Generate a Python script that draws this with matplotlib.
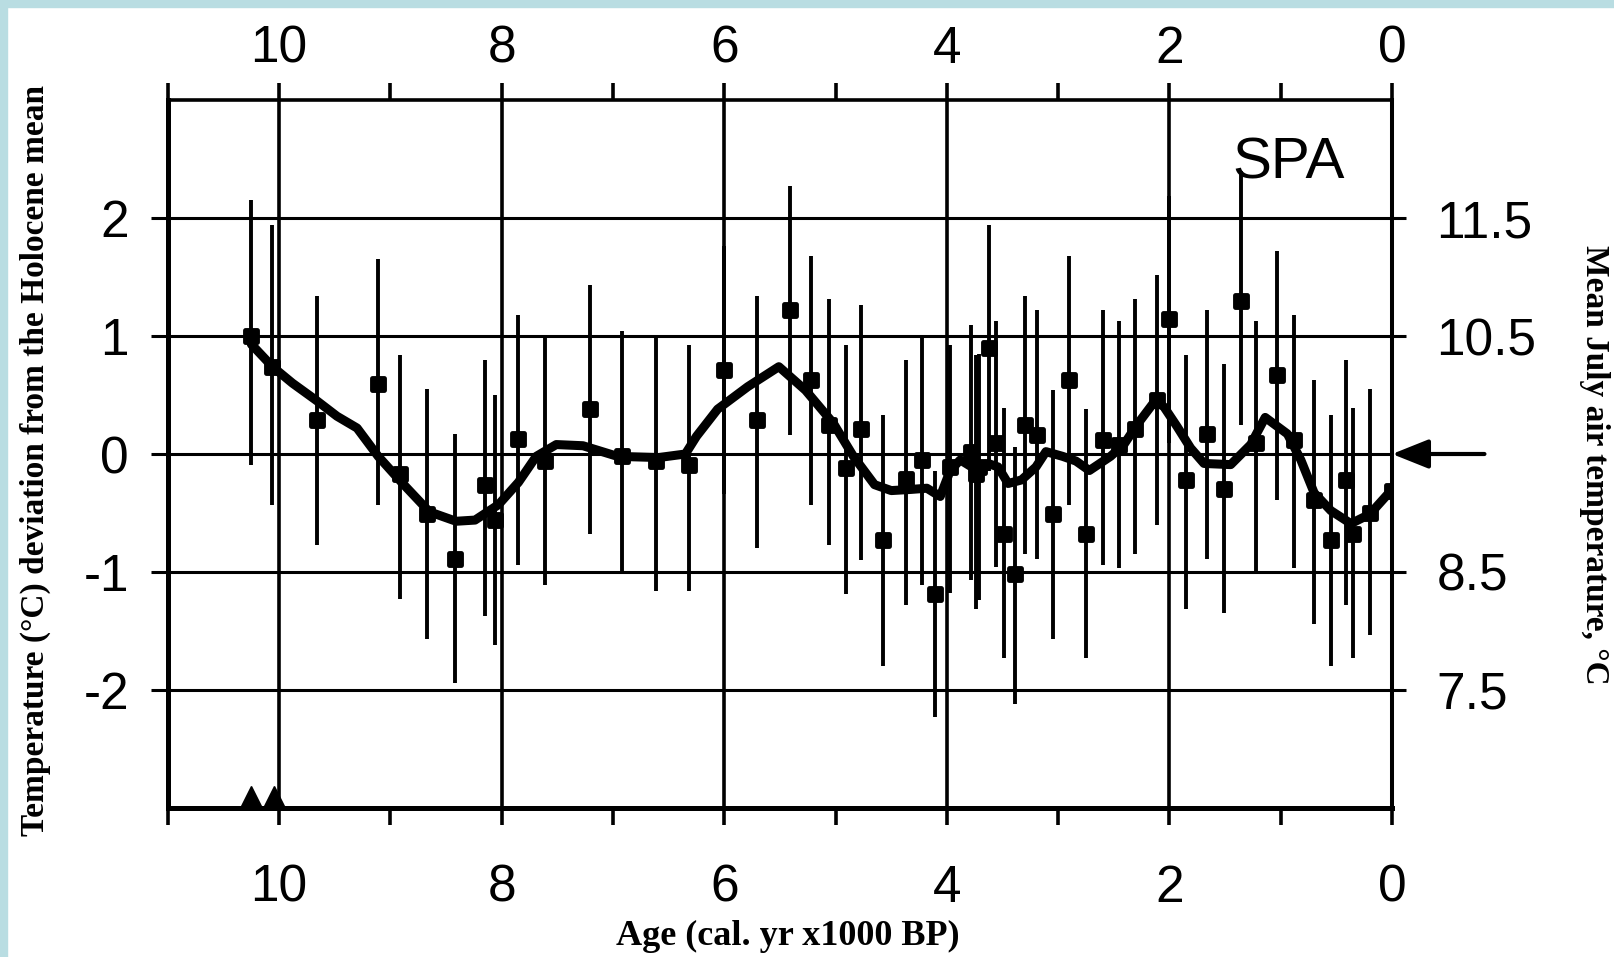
import matplotlib
matplotlib.use("Agg")
import matplotlib.pyplot as plt
from matplotlib.markers import MarkerStyle
from matplotlib.patches import Rectangle
from matplotlib.transforms import ScaledTranslation

# ---------------- data ----------------
age = [10.25, 10.06, 9.66, 9.11, 8.91, 8.67, 8.42, 8.15, 8.06, 7.85, 7.61, 7.21,
       6.92, 6.61, 6.32, 6.00, 5.71, 5.41, 5.22, 5.06, 4.91, 4.77, 4.57, 4.37,
       4.22, 4.11, 3.97, 3.78, 3.74, 3.71, 3.62, 3.56, 3.49, 3.39, 3.30, 3.19,
       3.05, 2.90, 2.75, 2.60, 2.45, 2.31, 2.11, 2.00, 1.85, 1.66, 1.51, 1.36,
       1.22, 1.03, 0.88, 0.70, 0.55, 0.41, 0.35, 0.20, 0.00]
temp = [1.00, 0.74, 0.29, 0.59, -0.17, -0.51, -0.89, -0.26, -0.56, 0.13, -0.06, 0.38,
        -0.02, -0.06, -0.09, 0.71, 0.29, 1.22, 0.63, 0.25, -0.12, 0.21, -0.73, -0.21,
        -0.05, -1.19, -0.11, 0.02, -0.17, -0.11, 0.90, 0.09, -0.68, -1.02, 0.25, 0.16,
        -0.51, 0.63, -0.68, 0.12, 0.08, 0.21, 0.46, 1.14, -0.22, 0.17, -0.30, 1.30,
        0.09, 0.67, 0.12, -0.39, -0.73, -0.22, -0.68, -0.50, -0.31]
err_hi = [2.15, 1.94, 1.34, 1.65, 0.84, 0.55, 0.17, 0.80, 0.50, 1.18, 0.99, 1.43,
          1.04, 0.99, 0.92, 1.76, 1.34, 2.27, 1.68, 1.31, 0.92, 1.26, 0.33, 0.80,
          1.00, -0.14, 0.92, 1.09, 0.84, 0.85, 1.94, 1.13, 0.39, 0.06, 1.34, 1.22,
          0.54, 1.68, 0.38, 1.22, 1.13, 1.31, 1.52, 2.19, 0.84, 1.22, 0.76, 2.40,
          1.13, 1.72, 1.18, 0.63, 0.33, 0.80, 0.39, 0.55, 0.74]
err_lo = [-0.09, -0.43, -0.77, -0.43, -1.23, -1.57, -1.94, -1.37, -1.62, -0.94, -1.11, -0.68,
          -1.02, -1.16, -1.16, -0.34, -0.80, 0.16, -0.43, -0.77, -1.19, -0.90, -1.80, -1.28,
          -1.11, -2.23, -1.18, -1.07, -1.31, -1.24, -0.14, -0.96, -1.73, -2.12, -0.85, -0.89,
          -1.57, -0.43, -1.73, -0.94, -0.97, -0.85, -0.60, 0.09, -1.31, -0.89, -1.35, 0.25,
          -1.01, -0.39, -0.97, -1.44, -1.80, -1.28, -1.73, -1.53, -1.36]

smooth_age = [10.25, 10.06, 9.88, 9.66, 9.48, 9.30, 9.11, 8.90, 8.65, 8.41, 8.24,
              8.03, 7.85, 7.69, 7.51, 7.27, 6.96, 6.59, 6.35, 6.25, 6.06, 5.79,
              5.51, 5.27, 5.02, 4.84, 4.65, 4.50, 4.32, 4.18, 4.06, 3.97, 3.88,
              3.76, 3.63, 3.54, 3.45, 3.33, 3.20, 3.11, 2.96, 2.84, 2.72, 2.53,
              2.41, 2.29, 2.13, 2.05, 1.93, 1.81, 1.69, 1.45, 1.27, 1.14, 0.94,
              0.82, 0.70, 0.55, 0.37, 0.20, 0.00]
smooth_temp = [0.93, 0.74, 0.60, 0.45, 0.32, 0.22, -0.02, -0.24, -0.49, -0.57, -0.56,
               -0.43, -0.24, -0.02, 0.08, 0.07, -0.02, -0.03, 0.00, 0.15, 0.38, 0.57,
               0.74, 0.54, 0.26, -0.02, -0.26, -0.31, -0.30, -0.29, -0.36, -0.14, -0.05,
               -0.12, -0.08, -0.11, -0.25, -0.22, -0.11, 0.02, -0.02, -0.06, -0.14, -0.02,
               0.08, 0.25, 0.45, 0.40, 0.23, 0.05, -0.08, -0.09, 0.08, 0.31, 0.17,
               -0.05, -0.33, -0.48, -0.59, -0.51, -0.30]

dated_levels = [10.25, 10.05]          # triangles on the age axis

x_major = [10, 8, 6, 4, 2, 0]
x_minor = [11, 9, 7, 5, 3, 1]
x_labels = ["10", "8", "6", "4", "2", "0"]
y_ticks = [2, 1, 0, -1, -2]
y_labels = ["2", "1", "0", "-1", "-2"]
right_ticks = [2, 1, -1, -2]
right_labels = ["11.5", "10.5", "8.5", "7.5"]

# ---------------- figure ----------------
W, H, DPI = 1614, 957, 100
fig = plt.figure(figsize=(W / DPI, H / DPI), dpi=DPI)
ax = fig.add_axes([0.104, 0.1557, 0.7585, 0.7398])

sans = "Liberation Sans"
serif = "Liberation Serif"
tick_fs = 37

ax.set_xlim(11, 0)
ax.set_ylim(-3, 3)
ax.set_axisbelow(True)

# grid
for xv in x_major[:-1]:
    ax.axvline(xv, color="k", lw=2.6, zorder=0)
for yv in y_ticks:
    ax.axhline(yv, color="k", lw=2.2, zorder=0)

# error bars, markers, smooth curve
ax.vlines(age, err_lo, err_hi, color="k", lw=2.8, zorder=2)
ms = MarkerStyle("s", joinstyle="round")
ax.plot(age, temp, linestyle="none", marker=ms, ms=8.5, mfc="k", mec="k", mew=3.5, zorder=3)
ax.plot(smooth_age, smooth_temp, color="k", lw=6.5, solid_joinstyle="round",
        solid_capstyle="round", zorder=4)

# dated levels (triangles sitting on the bottom axis)
tri_ms = 16
trans = ax.get_xaxis_transform() + ScaledTranslation(0, tri_ms / 2 / 72, fig.dpi_scale_trans)
ax.plot(dated_levels, [0] * len(dated_levels), linestyle="none", marker="^", ms=tri_ms,
        color="k", transform=trans, clip_on=False, zorder=5)

# bottom x ticks
ax.set_xticks(x_major)
ax.set_xticklabels(x_labels, fontfamily=sans)
ax.set_xticks(x_minor, minor=True)
ax.tick_params(axis="x", which="both", top=False, bottom=True, labeltop=False,
               labelbottom=True, direction="out", length=12, width=2.6,
               labelsize=tick_fs, pad=28)

# top x ticks (separate axis so the label gap can differ)
ax3 = ax.twiny()
ax3.set_xlim(11, 0)
ax3.set_xticks(x_major)
ax3.set_xticklabels(x_labels, fontfamily=sans)
ax3.set_xticks(x_minor, minor=True)
ax3.tick_params(axis="x", which="both", direction="out", length=12, width=2.6,
                labelsize=tick_fs, pad=7)
for s in ax3.spines.values():
    s.set_visible(False)

# left y ticks
ax.set_yticks(y_ticks)
ax.set_yticklabels(y_labels, fontfamily=sans)
ax.tick_params(axis="y", direction="out", length=12, width=2.2, pad=16,
               labelsize=tick_fs, left=True, right=False)

# right y ticks (July temperature scale)
ax2 = ax.twinx()
ax2.set_ylim(-3, 3)
ax2.set_yticks(right_ticks)
ax2.set_yticklabels(right_labels, fontfamily=sans)
ax2.tick_params(axis="y", direction="out", length=10, width=2.2, pad=22,
                labelsize=tick_fs)
for s in ax2.spines.values():
    s.set_visible(False)

# spines
ax.spines["left"].set_linewidth(3.6)
ax.spines["bottom"].set_linewidth(3.6)
ax.spines["top"].set_linewidth(2.6)
ax.spines["right"].set_linewidth(2.9)

# arrow at Holocene mean
ax.annotate("", xy=(0, 0), xytext=(-0.83, 0), xycoords="data",
            arrowprops=dict(arrowstyle="-|>,head_length=0.75,head_width=0.3",
                            lw=3, color="k", shrinkA=0, shrinkB=0,
                            mutation_scale=30),
            annotation_clip=False, zorder=6)

# SPA label
ax.text(0.93, 2.51, "SPA", fontsize=42, fontfamily=sans, ha="center",
        va="center_baseline")

# axis labels
fig.text(0.488, 0.021, "Age (cal. yr x1000 BP)", fontsize=26, fontweight="bold",
         fontfamily=serif, ha="center", va="center")
fig.text(0.022, 0.519, "Temperature (°C) deviation from the Holocene mean", fontsize=24,
         fontweight="bold", fontfamily=serif, ha="center", va="center", rotation=90)
fig.text(0.988, 0.514, "Mean July air temperature, °C", fontsize=24, fontweight="bold",
         fontfamily=serif, ha="center", va="center", rotation=270)

# light blue frame
blue = "#b9dde2"
fig.patches.append(Rectangle((0, 1 - 7 / H), 1, 7 / H, transform=fig.transFigure,
                             color=blue, zorder=-1))
fig.patches.append(Rectangle((0, 0), 7 / W, 1, transform=fig.transFigure,
                             color=blue, zorder=-1))

fig.savefig("out.png", dpi=DPI)
